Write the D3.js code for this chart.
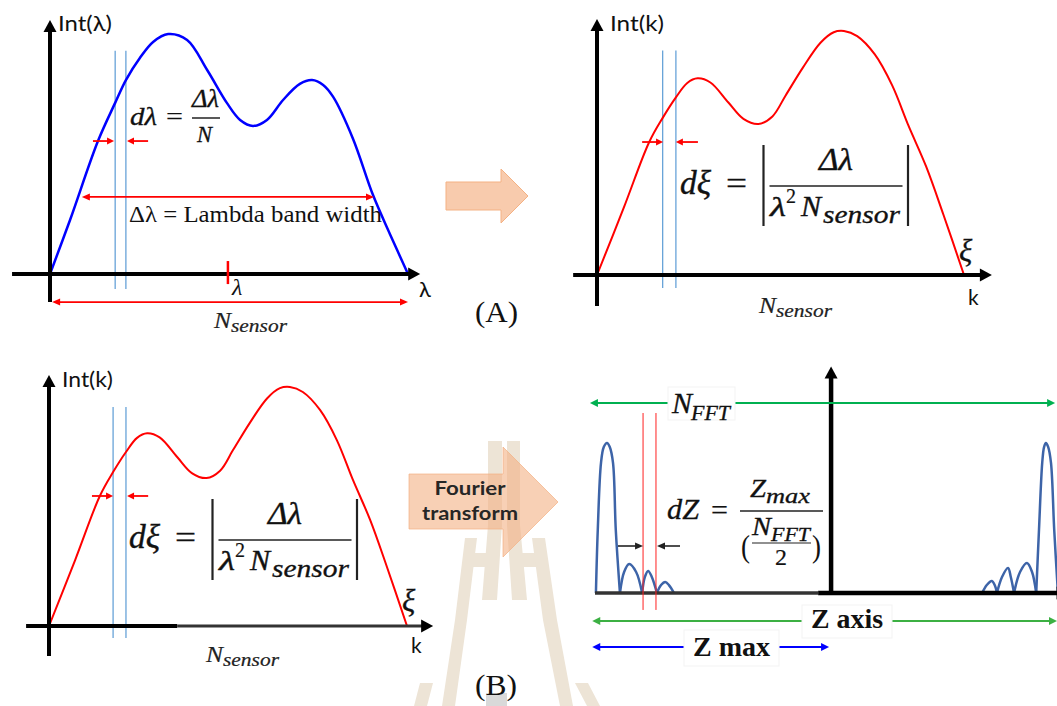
<!DOCTYPE html>
<html>
<head>
<meta charset="utf-8">
<script src="https://cdn.jsdelivr.net/npm/d3@7"></script>
<style>
  body { margin: 0; background: #fff; }
  svg { display: block; }
</style>
</head>
<body>
<div id="chart"></div>
<script>
var width = 1057,
  height = 706;

// (A) left: Int(lambda), x = % of sensor band, y = % of max intensity
var lambdaX   = [0, 5.6, 13.4, 18.2, 21.2, 25.1, 28.8, 33, 38.3, 43.9, 49.4, 53.1, 56.7, 60.6, 65.1, 69.8, 73.2, 76.3, 79.1, 84.6, 90.2, 95, 100];
var lambdaInt = [0, 22.5, 55.4, 71.3, 80.8, 90, 96.7, 100, 97.5, 85, 71.3, 64.2, 61.7, 64.2, 72.5, 79.2, 80.8, 78.8, 73.8, 56.5, 33, 16.5, 0];

// (A) right and (B) left: Int(k), same resampled spectrum
var kX   = [0, 7.3, 14.2, 17.9, 21.5, 24.6, 27.4, 30.9, 35.8, 39.9, 44, 47.8, 51.4, 56.1, 60.9, 64.5, 67.3, 70.9, 75.7, 80.4, 84.9, 89.7, 94.4, 100];
var kInt = [0, 27.6, 54.4, 64.4, 72.8, 78.7, 80.6, 78.9, 70.7, 64, 61.9, 65, 73.6, 85, 95.2, 99.5, 100, 97.9, 90.4, 77.8, 61.1, 44.4, 24.7, 0];

// sampling interval (two blue lines), in % of band
var bandLines = [17.9, 21.5];
var bandLinesLambda = [18.2, 21.2];

// (B) right: FFT result, lobes as [z, amplitude]
var fftLeft = [
  [[0.2, 0], [0.6, 42], [1.3, 86.7], [1.9, 97.3], [2.6, 100], [3.2, 97.3], [3.9, 86.7], [4.5, 42], [5.4, 0]],
  [[5.4, 0], [6.3, 14], [7.4, 19.3], [8.9, 14], [10.2, 0]],
  [[10.2, 0], [10.8, 10.7], [11.5, 14.7], [12.3, 10.7], [13.4, 0]],
  [[13.4, 0], [14.3, 5.3], [15.2, 7.3], [16, 5.3], [17.1, 0]]
];
var fftRight = [
  [[83.8, 0], [84.8, 5.3], [85.9, 8], [86.6, 4.7], [87, 0]],
  [[87, 0], [88.1, 10.7], [89.4, 16.7], [90, 10.7], [90.7, 0]],
  [[90.7, 0], [92, 14], [93.5, 20], [94.6, 14], [95.5, 0]],
  [[95.5, 0], [96.1, 42], [96.8, 86.7], [97.2, 97.3], [97.6, 100], [98.1, 97.3], [98.7, 86.7], [99.4, 42], [100.2, 0]]
];
var dzLines = [10.4, 13.2];
var zCenter = 51.1;

var SERIF = "'Liberation Serif', 'Times New Roman', serif";
var SANS = "Lato, 'Noto Sans', sans-serif";

var xA = d3.scaleLinear().domain([0, 100]).range([50, 408]);
var yA = d3.scaleLinear().domain([0, 100]).range([274, 34]);
var xB = d3.scaleLinear().domain([0, 100]).range([597, 964]);
var yB = d3.scaleLinear().domain([0, 100]).range([275, 31]);
var xC = d3.scaleLinear().domain([0, 100]).range([49, 407]);
var yC = d3.scaleLinear().domain([0, 100]).range([626, 387]);
var xD = d3.scaleLinear().domain([0, 100]).range([595, 1057]);
var yD = d3.scaleLinear().domain([0, 100]).range([593, 443]);

var svg = d3.select("#chart").append("svg")
  .attr("width", width)
  .attr("height", height);

function line(g, x1, y1, x2, y2, color, w) {
  return g.append("line")
    .attr("x1", x1).attr("y1", y1).attr("x2", x2).attr("y2", y2)
    .attr("stroke", color).attr("stroke-width", w);
}

function head(g, x, y, dir, len, half, color) {
  var pts;
  if (dir == "r") pts = [[x, y], [x - len, y - half], [x - len, y + half]];
  if (dir == "l") pts = [[x, y], [x + len, y - half], [x + len, y + half]];
  if (dir == "u") pts = [[x, y], [x - half, y + len], [x + half, y + len]];
  g.append("polygon")
    .attr("points", pts.map(function (p) { return p.join(","); }).join(" "))
    .attr("fill", color);
}

// arrow pointing to x2 (and to x1 too when both)
function hArrow(g, x1, x2, y, color, w, both, len, half) {
  var d = x2 > x1 ? 1 : -1;
  line(g, both ? x1 + d * len * 0.7 : x1, y, x2 - d * len * 0.7, y, color, w);
  head(g, x2, y, d > 0 ? "r" : "l", len, half, color);
  if (both) head(g, x1, y, d > 0 ? "l" : "r", len, half, color);
}

function txt(g, s, x, y, size, o) {
  o = o || {};
  var fill = o.fill || "#111";
  var t = g.append("text")
    .attr("x", x).attr("y", y)
    .attr("font-family", o.family || SERIF)
    .attr("font-size", size)
    .attr("font-style", o.italic ? "italic" : "normal")
    .attr("font-weight", o.bold ? "bold" : "normal")
    .attr("fill", fill)
    .attr("text-anchor", o.anchor || "start")
    .text(s);
  if (o.len) t.attr("textLength", o.len).attr("lengthAdjust", "spacingAndGlyphs");
  if (o.heavy) t.attr("stroke", fill).attr("stroke-width", o.heavy);
  return t;
}

function axes(g, x, y, xLo, xHi, yLo, yHi) {
  line(g, x(xLo), y(0), x(xHi) - 9, y(0), "#000", 4);
  head(g, x(xHi), y(0), "r", 12, 6.5, "#000");
  line(g, x(0), y(yLo), x(0), y(yHi) + 9, "#000", 4);
  head(g, x(0), y(yHi), "u", 12, 6.5, "#000");
}

function curve(x, y) {
  return d3.line()
    .x(function (d) { return x(d[0]); })
    .y(function (d) { return y(d[1]); })
    .curve(d3.curveCatmullRom.alpha(0.5));
}

// |d xi| formula, x0 = start of "d xi", b = baseline
function dxiFormula(g, x0, b) {
  txt(g, "d\u03BE", x0, b, 33, { italic: true, len: 31, heavy: 0.4 });
  txt(g, "=", x0 + 46, b, 32, { len: 21, heavy: 0.3 });
  line(g, x0 + 83.5, b - 49, x0 + 83.5, b + 32, "#222", 2.2);
  line(g, x0 + 228, b - 49, x0 + 228, b + 32, "#222", 2.2);
  line(g, x0 + 89.5, b - 8, x0 + 222.5, b - 8, "#222", 1.6);
  txt(g, "\u0394\u03BB", x0 + 139, b - 24, 31, { italic: true, len: 34, heavy: 0.4 });
  txt(g, "\u03BB", x0 + 90, b + 22, 28, { italic: true, len: 16, heavy: 0.4 });
  txt(g, "2", x0 + 106, b + 9, 21, { len: 10, heavy: 0.2 });
  txt(g, "N", x0 + 121, b + 22, 29, { italic: true, len: 20, heavy: 0.4 });
  txt(g, "sensor", x0 + 143, b + 29, 25, { italic: true, len: 77, heavy: 0.3 });
}

function nSensor(g, x0, b) {
  txt(g, "N", x0, b, 24, { italic: true, fill: "#222", len: 17, heavy: 0.2 });
  txt(g, "sensor", x0 + 17, b + 4, 19, { italic: true, fill: "#222", len: 56, heavy: 0.2 });
}

// ---------- watermark (background) ----------
var wm = svg.append("g").attr("fill", "#ede4d6");
[
  [[488, 441], [502, 441], [502, 525], [497, 600], [482, 600], [488, 525]],
  [[507, 441], [520, 441], [520, 525], [527, 600], [512, 600], [507, 525]],
  [[470, 553], [490, 553], [490, 567], [470, 567]],
  [[518, 553], [538, 553], [538, 567], [518, 567]],
  [[465, 538], [477, 538], [467, 620], [455, 706], [442, 706], [455, 620]],
  [[532, 538], [545, 538], [557, 620], [573, 706], [560, 706], [543, 620]],
  [[420, 683], [433, 683], [427, 706], [414, 706]],
  [[575, 683], [588, 683], [600, 706], [587, 706]]
].forEach(function (p) {
  wm.append("polygon").attr("points", p.map(function (q) { return q.join(","); }).join(" "));
});
svg.append("rect").attr("x", 486).attr("y", 693).attr("width", 21).attr("height", 13).attr("fill", "#d9d9d9");

// ---------- (A) left : Int(lambda) ----------
var gA = svg.append("g");
bandLinesLambda.forEach(function (v) {
  line(gA, xA(v), yA(93), xA(v), yA(-6.3), "#5b9bd5", 1.2);
});
gA.append("path")
  .datum(d3.zip(lambdaX, lambdaInt))
  .attr("d", curve(xA, yA))
  .attr("fill", "none").attr("stroke", "#0000ff").attr("stroke-width", 2.5);
axes(gA, xA, yA, -10.6, 103.4, -11.7, 105.8);
line(gA, xA(49.7), yA(5.4), xA(49.7), yA(-4.2), "#ff0000", 2.5);
hArrow(gA, xA(12), xA(17.9), yA(55.4), "#ff0000", 1.8, false, 7, 3.5);
hArrow(gA, xA(27.4), xA(21.5), yA(55.4), "#ff0000", 1.8, false, 7, 3.5);
hArrow(gA, xA(8.9), xA(90.5), yA(32.1), "#ff0000", 1.8, true, 8, 3.5);
hArrow(gA, xA(0.6), xA(100), yA(-11.7), "#ff0000", 1.8, true, 8, 3.5);

txt(gA, "Int(\u03BB)", 58, 31, 21, { family: SANS, len: 54 });
txt(gA, "d\u03BB", 130, 125, 26, { italic: true, len: 27, heavy: 0.3 });
txt(gA, "=", 166, 125, 26, { len: 17, heavy: 0.2 });
txt(gA, "\u0394\u03BB", 192, 107, 25, { italic: true, len: 27, heavy: 0.3 });
line(gA, 192, 118, 220, 118, "#222", 1.5);
txt(gA, "N", 197, 142, 24, { italic: true, len: 15, heavy: 0.3 });
txt(gA, "\u0394\u03BB = Lambda  band  width", 129, 222, 24, { len: 253 });
txt(gA, "\u03BB", 232, 295, 24, { italic: true });
txt(gA, "\u03BB", 419, 297, 22, { family: SANS });
nSensor(gA, 214, 328);
txt(svg, "(A)", 475, 322, 29, { len: 43 });

// transition arrow (A)
svg.append("polygon")
  .attr("points", "446,182 501,182 501,169 528,196 501,223 501,210 446,210")
  .attr("fill", "#f8cbad").attr("stroke", "#f4b183").attr("stroke-width", 1);

// ---------- (A) right : Int(k) ----------
var gB = svg.append("g");
bandLines.forEach(function (v) {
  line(gB, xB(v), yB(92), xB(v), yB(-5.3), "#5b9bd5", 1.2);
});
gB.append("path")
  .datum(d3.zip(kX, kInt))
  .attr("d", curve(xB, yB))
  .attr("fill", "none").attr("stroke", "#ff0000").attr("stroke-width", 2);
axes(gB, xB, yB, -6.5, 107.6, -12.7, 104.9);
hArrow(gB, xB(12.3), xB(18), yB(54.5), "#ff0000", 1.8, false, 7, 3.5);
hArrow(gB, xB(27.5), xB(21.5), yB(54.5), "#ff0000", 1.8, false, 7, 3.5);
txt(gB, "Int(k)", 610, 31, 21, { family: SANS, len: 54 });
dxiFormula(gB, 680, 194);
txt(gB, "\u03BE", 959, 261, 31, { italic: true, heavy: 0.3 });
txt(gB, "k", 968, 305, 21, { family: SANS });
nSensor(gB, 759, 313);

// ---------- (B) left : Int(k) ----------
var gC = svg.append("g");
bandLines.forEach(function (v) {
  line(gC, xC(v), yC(91.6), xC(v), yC(-5), "#5b9bd5", 1.2);
});
gC.append("path")
  .datum(d3.zip(kX, kInt))
  .attr("d", curve(xC, yC))
  .attr("fill", "none").attr("stroke", "#ff0000").attr("stroke-width", 2);
line(gC, xC(-6.4), yC(0), xC(35.8), yC(0), "#000", 4);
line(gC, xC(35.8), yC(0), xC(107.3) - 9, yC(0), "#333", 3);
head(gC, xC(107.3), yC(0), "r", 12, 6.5, "#000");
line(gC, xC(0), yC(-12.6), xC(0), yC(105) + 9, "#000", 4);
head(gC, xC(0), yC(105), "u", 12, 6.5, "#000");
hArrow(gC, xC(12), xC(17.9), yC(54.4), "#ff0000", 1.8, false, 7, 3.5);
hArrow(gC, xC(27.7), xC(21.8), yC(54.4), "#ff0000", 1.8, false, 7, 3.5);
txt(gC, "Int(k)", 62, 387, 21, { family: SANS, len: 51 });
dxiFormula(gC, 129, 548);
txt(gC, "\u03BE", 402, 611, 31, { italic: true, heavy: 0.3 });
txt(gC, "k", 411, 653, 21, { family: SANS });
nSensor(gC, 206, 662);
txt(svg, "(B)", 475, 695, 29, { len: 42 });

// Fourier transform arrow (semi transparent over watermark)
svg.append("polygon")
  .attr("points", "409,474 503,474 503,447 558,502 503,557 503,529 409,529")
  .attr("fill", "#f4b183").attr("fill-opacity", 0.6)
  .attr("stroke", "#f4b183").attr("stroke-opacity", 0.7);
txt(svg, "Fourier", 470, 495, 19, { family: SANS, bold: true, anchor: "middle", fill: "#262626", len: 71 });
txt(svg, "transform", 470, 520, 19, { family: SANS, bold: true, anchor: "middle", fill: "#262626", len: 96 });

// ---------- (B) right : FFT ----------
var gD = svg.append("g");
var fftLine = curve(xD, yD);
fftLeft.concat(fftRight).forEach(function (lobe) {
  gD.append("path").datum(lobe).attr("d", fftLine)
    .attr("fill", "none").attr("stroke", "#3d64a8").attr("stroke-width", 2.5);
});
line(gD, xD(0), yD(0), xD(48.3), yD(0), "#333", 3.5);
line(gD, xD(48.3), yD(0), xD(101.5), yD(0), "#000", 4.5);
head(gD, xD(102.5), yD(0), "r", 12, 6.5, "#000");
line(gD, xD(zCenter), yD(0), xD(zCenter), yD(151) + 9, "#000", 4.5);
head(gD, xD(zCenter), yD(151), "u", 12, 6.5, "#000");
dzLines.forEach(function (v) {
  line(gD, xD(v), yD(120), xD(v), yD(-11.3), "#ff2020", 1);
});
hArrow(gD, 618, xD(dzLines[0]), 546, "#222", 1.6, false, 8, 3.5);
hArrow(gD, 680, xD(dzLines[1]) + 1, 546, "#222", 1.6, false, 8, 3.5);

// N_FFT
hArrow(gD, xD(-1.1), xD(99.6), 403, "#00b050", 2.2, true, 8, 4);
gD.append("rect").attr("x", 668).attr("y", 387).attr("width", 67).attr("height", 33)
  .attr("fill", "#fff").attr("stroke", "#f3f3f3");
txt(gD, "N", 672, 413, 29, { italic: true, len: 20, heavy: 0.3 });
txt(gD, "FFT", 691, 420, 20, { italic: true, len: 39, heavy: 0.3 });

// dZ formula
txt(gD, "dZ", 667, 519, 29, { italic: true, len: 32, heavy: 0.3 });
txt(gD, "=", 711, 519, 28, { len: 17, heavy: 0.2 });
line(gD, 740, 511, 823, 511, "#222", 1.5);
txt(gD, "Z", 750, 497, 26, { italic: true, len: 16, heavy: 0.3 });
txt(gD, "max", 766, 503, 21, { italic: true, len: 44, heavy: 0.3 });
txt(gD, "(", 741, 557, 31, { len: 9 });
txt(gD, ")", 812, 557, 31, { len: 9 });
txt(gD, "N", 752, 535, 25, { italic: true, len: 19, heavy: 0.3 });
txt(gD, "FFT", 771, 541, 19, { italic: true, len: 39, heavy: 0.3 });
line(gD, 752, 543, 811, 543, "#222", 1.2);
txt(gD, "2", 775, 565, 24, { heavy: 0.2 });

// Z axis / Z max
hArrow(gD, xD(-0.6), xD(100), 621, "#3cb043", 2.2, true, 8, 4);
gD.append("rect").attr("x", 802).attr("y", 605).attr("width", 90).attr("height", 33)
  .attr("fill", "#fff").attr("stroke", "#f3f3f3");
txt(gD, "Z axis", 811, 628, 28, { bold: true, len: 72 });
hArrow(gD, xD(-0.6), xD(zCenter) - 2, 647, "#0000ff", 2.2, true, 8, 4);
gD.append("rect").attr("x", 684).attr("y", 630).attr("width", 95).attr("height", 36)
  .attr("fill", "#fff").attr("stroke", "#f3f3f3");
txt(gD, "Z max", 693, 656, 28, { bold: true, len: 77 });
</script>
</body>
</html>
